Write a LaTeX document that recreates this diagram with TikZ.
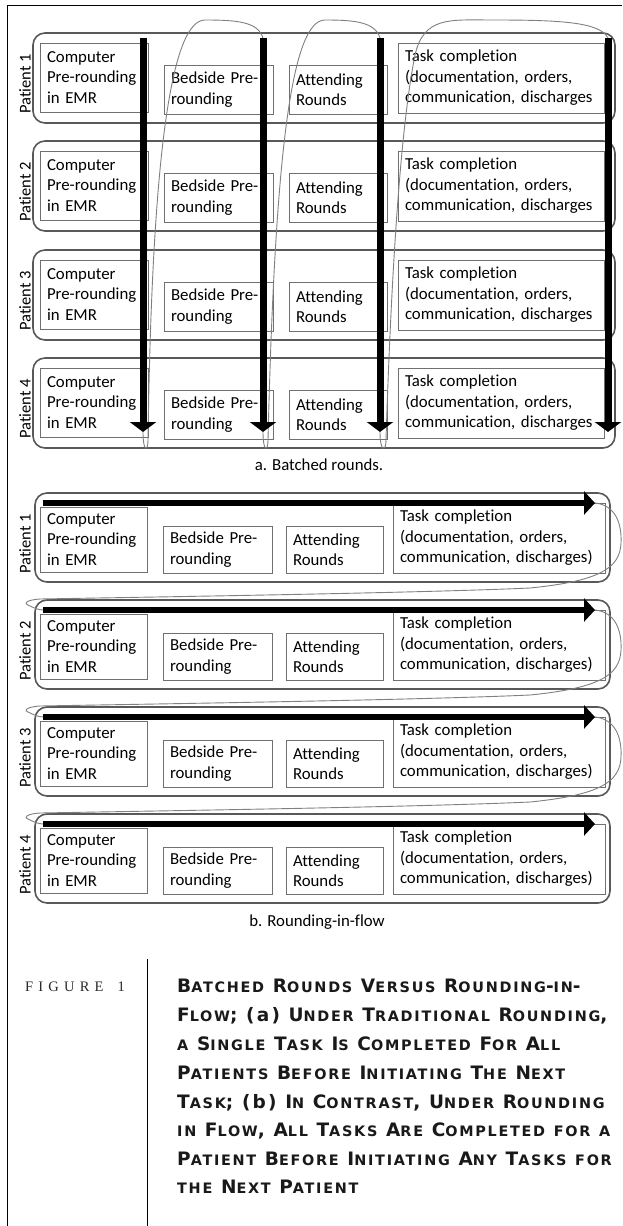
\documentclass[tikz,border=0pt]{standalone}
\usepackage{fontspec}
\setmainfont{Carlito}[Ligatures=CommonOff]
\newfontfamily\capfont{DejaVu Sans}[LetterSpace=12]
\newfontfamily\figfont{Liberation Serif}
\usetikzlibrary{arrows.meta}
\definecolor{rowc}{HTML}{595959}
\definecolor{boxc}{HTML}{707070}
\definecolor{curvec}{HTML}{808080}
\definecolor{figc}{HTML}{2a2a2a}
\newcommand\Cw[2]{{\fontsize{18.5}{18.5}\selectfont #1}{\fontsize{14.4}{14.4}\selectfont\MakeUppercase{#2}}}
\newcommand\Sw[1]{{\fontsize{14.4}{14.4}\selectfont\MakeUppercase{#1}}}
\newcommand\ls{\kern5.2pt}
\tikzset{
  rowbox/.style={draw=rowc, line width=1.6pt, rounded corners=12pt, anchor=north west, inner sep=0pt, outer sep=0pt},
  tbox/.style={draw=boxc, line width=0.9pt, anchor=north west, align=left, inner xsep=7pt, inner ysep=0pt, outer sep=0pt, font=\fontsize{16.8}{20.5}\selectfont},
  plabel/.style={rotate=90, inner sep=0pt, font=\fontsize{16.5}{16.5}\selectfont},
  vflow/.style={line width=7pt, -{Triangle[length=10pt,width=26pt]}},
  hflow/.style={line width=6pt, -{Triangle[length=11pt,width=23pt]}},
  loopline/.style={draw=curvec, line width=0.9pt},
  frameline/.style={draw=black, line width=0.8pt},
  subcap/.style={inner sep=0pt, font=\fontsize{16.8}{16.8}\selectfont},
  capline/.style={anchor=base west, inner sep=0pt, font=\capfont\bfseries\fontsize{18.5}{18.5}\selectfont, text=black!90},
}
\begin{document}
\begin{tikzpicture}[x=1pt,y=-1pt]
\useasboundingbox (0,0) rectangle (622,1226);
\fill[white] (0,0) rectangle (622,1226);
% frame
\draw[frameline] (7,1226) -- (7,5) -- (622,5);
% ---------- a. batched rounds ----------
\foreach \i/\T in {1/33,2/141,3/250,4/358}{
  \node[rowbox, minimum width=582, minimum height=90] (ra\i) at (33,\T) {};
  \node[plabel] (pa\i) at (25,{\T+51}) {Patient \i};
  \node[tbox, text width=94, minimum height=69] (ca\i) at (40,{\T+10}) {Computer\\Pre-rounding\\in EMR};
  \node[tbox, text width=95, minimum height=49] (ba\i) at (164,{\T+32}) {Bedside Pre-\\rounding};
  \node[tbox, text width=84, minimum height=49] (aa\i) at (289,{\T+32}) {Attending\\Rounds};
  \node[tbox, text width=192, minimum height=70] (ta\i) at (398,{\T+10}) {Task completion\\(documentation, orders,\\communication, discharges};
}
\foreach \j/\x in {1/143,2/263,3/380,4/608}{
  \coordinate (vs\j) at (\x,38);
  \coordinate (ve\j) at (\x,432);
}
\draw[loopline] (ve1) .. controls (143,452) and (148,452) .. (148,440) .. controls (152,150) and (172,20) .. (205,20) .. controls (238,20) and (258,22) .. (vs2);
\draw[loopline] (ve2) .. controls (263,452) and (268,452) .. (268,440) .. controls (275,150) and (292,20) .. (325,20) .. controls (355,20) and (375,22) .. (vs3);
\draw[loopline] (ve3) .. controls (380,452) and (386,452) .. (386,440) .. controls (392,250) and (402,120) .. (415,55) .. controls (424,16) and (450,20) .. (493,20) .. controls (560,20) and (600,22) .. (vs4);
\foreach \j in {1,2,3,4}{
  \draw[vflow] (vs\j) -- (ve\j);
}
\node[subcap] (capa) at (319,465) {a. Batched rounds.};
% ---------- b. rounding in flow ----------
\foreach \i/\T in {1/493,2/600,3/707,4/814}{
  \node[rowbox, minimum width=575, minimum height=89] (rb\i) at (35,\T) {};
  \node[plabel] (pb\i) at (25,{\T+51}) {Patient \i};
  \node[tbox, text width=93, minimum height=65] (cb\i) at (40,{\T+14}) {Computer\\Pre-rounding\\in EMR};
  \node[tbox, text width=95, minimum height=47] (bb\i) at (163,{\T+33}) {Bedside Pre-\\rounding};
  \node[tbox, text width=83, minimum height=47] (ab\i) at (286,{\T+33}) {Attending\\Rounds};
  \node[tbox, text width=198, minimum height=70] (tb\i) at (393,{\T+10}) {Task completion\\(documentation, orders,\\communication, discharges)};
  \coordinate (hs\i) at (43,{\T+10});
  \coordinate (he\i) at (595,{\T+10});
}
\foreach \i/\T/\n in {1/493/2,2/600/3,3/707/4}{
  \draw[loopline] (he\i) .. controls (615,{\T+12}) and (622,{\T+30}) .. (621,{\T+50})
     .. controls (620,{\T+75}) and (600,{\T+88}) .. (530,{\T+95})
     .. controls (420,{\T+100}) and (150,{\T+104}) .. (40,{\T+106})
     .. controls (25,{\T+107}) and (24,{\T+111}) .. (28,{\T+112})
     .. controls (32,{\T+114}) and (38,{\T+117}) .. (hs\n);
}
\foreach \i in {1,2,3,4}{
  \draw[hflow] (hs\i) -- (he\i);
}
\node[subcap] (capb) at (317,922) {b. Rounding-in-flow};
% ---------- caption ----------
\draw[frameline] (147,959) -- (147,1226);
\node[anchor=base west, inner sep=0pt, text=figc, font=\figfont\fontsize{14.5}{14.5}\selectfont] (fig) at (25,991) {F\ls I\ls G\ls U\ls R\ls E\ls\ \ls 1};
\node[capline] (l1) at (177,992) {\Cw{B}{atched} \Cw{R}{ounds} \Cw{V}{ersus} \Cw{R}{ounding}-\Sw{in}-};
\node[capline] (l2) at (177,1021) {\Cw{F}{low}; (a) \Cw{U}{nder} \Cw{T}{raditional} \Cw{R}{ounding},};
\node[capline] (l3) at (177,1050) {\Sw{a} \Cw{S}{ingle} \Cw{T}{ask} \Cw{I}{s} \Cw{C}{ompleted} \Cw{F}{or} \Cw{A}{ll}};
\node[capline] (l4) at (177,1079) {\Cw{P}{atients} \Cw{B}{efore} \Cw{I}{nitiating} \Cw{T}{he} \Cw{N}{ext}};
\node[capline] (l5) at (177,1108) {\Cw{T}{ask}; (b) \Cw{I}{n} \Cw{C}{ontrast}, \Cw{U}{nder} \Cw{R}{ounding}};
\node[capline] (l6) at (177,1136) {\Sw{in} \Cw{F}{low}, \Cw{A}{ll} \Cw{T}{asks} \Cw{A}{re} \Cw{C}{ompleted} \Sw{for} \Sw{a}};
\node[capline] (l7) at (177,1165) {\Cw{P}{atient} \Cw{B}{efore} \Cw{I}{nitiating} \Cw{A}{ny} \Cw{T}{asks} \Sw{for}};
\node[capline] (l8) at (177,1193) {\Sw{the} \Cw{N}{ext} \Cw{P}{atient}};
\end{tikzpicture}
\end{document}
